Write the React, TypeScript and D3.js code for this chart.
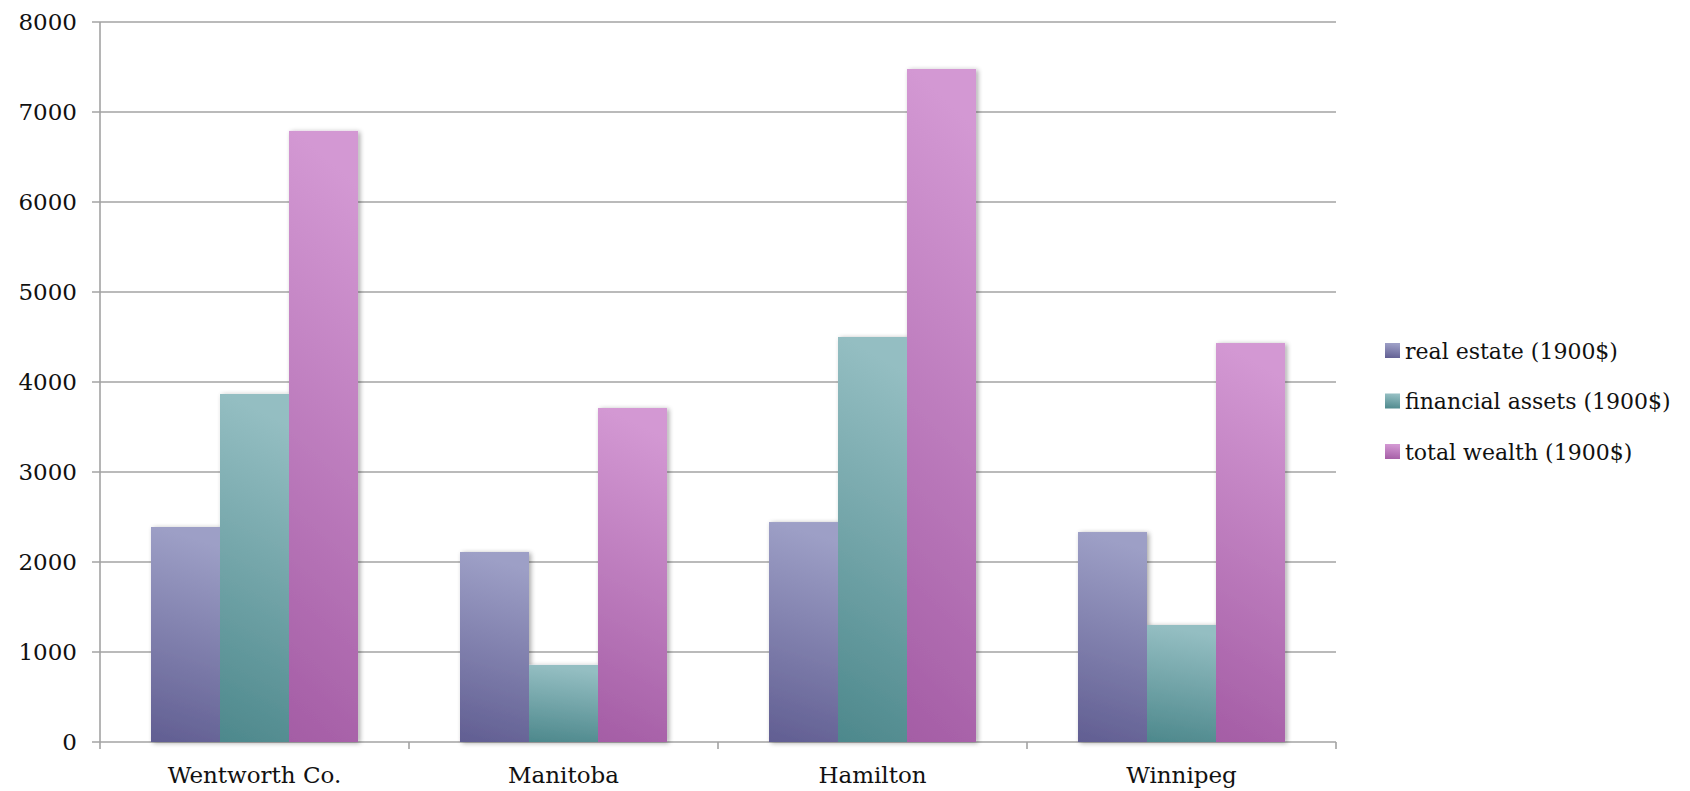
import React from "react";
import * as d3 from "d3";

const categories = ["Wentworth Co.", "Manitoba", "Hamilton", "Winnipeg"];
const seriesNames = ["real estate (1900$)", "financial assets (1900$)", "total wealth (1900$)"];
const realEstate = [2389, 2111, 2444, 2333];
const financialAssets = [3867, 856, 4500, 1300];
const totalWealth = [6790, 3711, 7478, 4433];
const yTicks = [0, 1000, 2000, 3000, 4000, 5000, 6000, 7000, 8000];

const gradTop = ["#9d9fc6", "#94bec2", "#d398d3"];
const gradBottom = ["#615e92", "#4d888c", "#a45da5"];

const W = 1690;
const H = 791;
const left = 100;
const right = 1336;
const top = 22;
const bottom = 742;
const FONT = "'DejaVu Serif', Georgia, serif";

export default function App() {
  const series = [realEstate, financialAssets, totalWealth];
  const x0 = d3.scaleBand<string>().domain(categories).range([left, right]).paddingInner(0).paddingOuter(0);
  const inner = x0.bandwidth() * 0.67;
  const x1 = d3.scaleBand<number>().domain([0, 1, 2]).range([0, inner]).padding(0);
  const offset = (x0.bandwidth() - inner) / 2;
  const y = d3.scaleLinear().domain([0, 8000]).range([bottom, top]);

  return (
    <svg width={W} height={H} style={{ position: "absolute", left: 0, top: 0, background: "#fff" }}>
      <defs>
        {gradTop.map((c, i) => (
          <linearGradient key={i} id={`g${i}`} x1="0.1" y1="0" x2="0" y2="1">
            <stop offset="0" stopColor={c} />
            <stop offset="1" stopColor={gradBottom[i]} />
          </linearGradient>
        ))}
        <filter id="sh" x="-20%" y="-5%" width="150%" height="110%">
          <feGaussianBlur in="SourceAlpha" stdDeviation="2.5" />
          <feOffset dx="2" dy="1" result="b" />
          <feComponentTransfer>
            <feFuncA type="linear" slope="0.35" />
          </feComponentTransfer>
          <feMerge>
            <feMergeNode />
            <feMergeNode in="SourceGraphic" />
          </feMerge>
        </filter>
      </defs>
      {yTicks.map((t) => (
        <g key={t}>
          <line x1={left - 8} x2={right} y1={y(t)} y2={y(t)} stroke="#a3a3a3" strokeWidth={1.6} />
          <text x={77} y={y(t)} dy="0.35em" textAnchor="end" fontFamily={FONT} fontSize={23} fill="#111">
            {t}
          </text>
        </g>
      ))}
      <line x1={left} x2={left} y1={top} y2={bottom + 7} stroke="#a3a3a3" strokeWidth={1.6} />
      {categories.map((c) => (
        <line key={c} x1={x0(c)! + x0.bandwidth()} x2={x0(c)! + x0.bandwidth()} y1={bottom} y2={bottom + 7} stroke="#a3a3a3" strokeWidth={1.6} />
      ))}
      {categories.map((c, ci) => (
        <g key={c} filter="url(#sh)">
          {series.map((s, si) => (
            <rect
              key={si}
              x={x0(c)! + offset + x1(si)!}
              y={y(s[ci])}
              width={x1.bandwidth()}
              height={bottom - y(s[ci])}
              fill={`url(#g${si})`}
            />
          ))}
        </g>
      ))}
      {categories.map((c) => (
        <text key={c} x={x0(c)! + x0.bandwidth() / 2} y={783} textAnchor="middle" fontFamily={FONT} fontSize={23} fill="#111">
          {c}
        </text>
      ))}
      {seriesNames.map((n, i) => (
        <g key={n} transform={`translate(1385, ${351 + i * 50.5})`}>
          <rect x={0} y={-8} width={15} height={15} fill={`url(#g${i})`} />
          <text x={20} y={0} dy="0.35em" fontFamily={FONT} fontSize={22} fill="#111">
            {n}
          </text>
        </g>
      ))}
    </svg>
  );
}
